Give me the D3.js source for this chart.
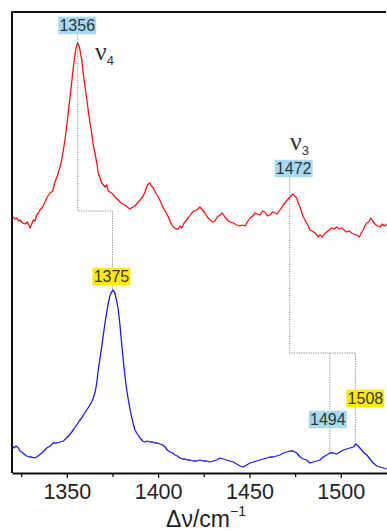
<!DOCTYPE html>
<html><head><meta charset="utf-8">
<script src="https://cdn.jsdelivr.net/npm/d3@7"></script>
<style>html,body{margin:0;padding:0;background:#fff;}svg{display:block;}</style>
</head><body>
<svg id="c" width="387" height="531"></svg>
<script>
// ---- data ----
const redWn = [1320.0,1321.6,1322.6,1323.5,1324.4,1325.8,1327.1,1328.4,1329.9,1330.8,1331.7,1332.6,1333.5,1334.4,1335.3,1336.8,1338.1,1339.3,1340.8,1342.3,1343.5,1344.8,1346.3,1347.2,1348.1,1349.0,1349.9,1350.8,1351.8,1352.7,1353.6,1354.5,1355.4,1356.0,1356.7,1357.2,1358.2,1359.0,1360.1,1361.2,1362.3,1363.6,1364.5,1365.4,1366.4,1367.2,1368.2,1369.1,1370.0,1370.9,1371.8,1372.7,1373.6,1375.1,1376.4,1377.6,1379.1,1380.6,1381.9,1383.1,1384.6,1386.1,1387.3,1388.6,1390.1,1391.5,1392.8,1393.7,1394.6,1395.5,1396.4,1397.4,1398.7,1400.1,1401.4,1402.8,1404.1,1405.6,1406.9,1408.3,1409.8,1411.0,1412.0,1412.9,1414.2,1415.6,1416.9,1418.4,1419.6,1421.1,1422.9,1424.4,1425.7,1426.9,1428.4,1429.9,1431.1,1432.4,1433.9,1435.1,1436.6,1437.9,1439.3,1441.2,1443.0,1444.8,1446.3,1447.6,1448.8,1450.3,1451.8,1453.0,1454.3,1455.8,1457.2,1458.5,1459.8,1461.2,1462.7,1464.0,1465.2,1466.7,1468.2,1469.5,1470.7,1472.2,1473.7,1474.8,1475.9,1476.7,1477.7,1478.6,1479.5,1480.4,1481.3,1482.2,1483.1,1484.4,1485.9,1486.8,1487.7,1488.6,1489.9,1491.0,1492.3,1493.7,1495.0,1496.3,1497.8,1499.2,1500.5,1501.8,1503.2,1504.7,1506.0,1507.2,1508.7,1510.1,1511.2,1512.3,1513.2,1514.2,1515.3,1516.4,1517.5,1518.7,1520.0,1521.5,1522.7,1523.8,1525.1];
const redI = [257,254,255,252,253,250,249,251,245,249,253,252,258,260,263,266,271,276,280,282,291,297,306,313,323,333,346,361,376,391,406,419,428,430,427,423,413,400,385,370,355,340,328,320,310,300,295,290,288,286,288,282,281,279,276,274,271,269,268,266,264,266,267,270,273,276,281,286,289,290,287,285,280,276,271,265,261,256,250,246,244,244,247,245,250,253,256,260,262,263,266,263,260,256,253,251,252,256,258,260,256,253,251,250,248,247,248,247,251,255,257,260,259,258,262,261,257,258,261,260,259,263,267,270,273,276,279,277,275,270,266,261,256,253,250,247,243,242,240,238,236,238,236,239,241,243,245,244,246,244,245,243,241,242,240,239,238,236,240,243,247,250,251,255,252,249,247,246,249,247,249];
const blueWn = [1320.0,1321.1,1322.2,1323.5,1324.4,1325.3,1326.6,1328.0,1329.5,1330.8,1332.2,1333.5,1334.9,1336.3,1337.5,1339.0,1340.8,1342.6,1344.5,1346.3,1348.1,1349.9,1351.4,1352.7,1353.9,1355.4,1356.8,1358.2,1359.4,1360.9,1362.3,1363.6,1364.5,1365.4,1366.4,1367.2,1368.2,1369.1,1370.0,1370.9,1371.8,1372.7,1373.6,1374.5,1375.4,1376.3,1377.2,1378.2,1379.1,1380.0,1380.9,1381.9,1382.8,1383.7,1384.6,1385.5,1386.4,1387.3,1388.6,1390.1,1391.5,1392.8,1394.1,1395.5,1397.0,1398.3,1399.5,1401.0,1402.5,1403.8,1405.0,1406.5,1408.0,1409.2,1410.5,1412.0,1413.4,1414.7,1416.0,1417.4,1419.3,1421.1,1422.9,1424.7,1426.6,1428.4,1430.2,1432.1,1433.9,1435.7,1437.5,1439.3,1441.2,1443.0,1444.8,1446.6,1448.5,1450.3,1452.1,1454.0,1455.8,1457.6,1459.4,1461.2,1463.0,1464.9,1466.7,1468.5,1470.4,1472.2,1474.0,1475.9,1477.7,1479.5,1481.3,1483.1,1484.9,1486.8,1488.6,1490.4,1492.3,1494.1,1495.9,1497.8,1499.6,1501.4,1503.2,1505.0,1506.9,1508.2,1509.6,1510.9,1512.3,1514.2,1516.0,1517.8,1519.7,1521.5,1523.3,1525.1];
const blueI = [28,25,27,25,22,21,19,17,16,16,15,16,18,20,22,25,27,30,30,31,32,35,38,41,44,48,52,55,59,63,67,71,75,80,90,103,115,126,138,150,160,170,177,181,183,180,173,163,148,130,113,96,83,73,64,56,49,43,39,35,32,31,32,31,31,30,30,29,28,26,23,21,20,18,17,15,14,14,13,13,12,12,13,12,12,11,12,13,15,14,13,12,11,9,7,6,8,10,11,12,13,14,15,16,16,17,18,20,21,22,22,20,16,14,13,10,11,12,13,16,18,20,20,19,21,23,24,25,26,29,27,24,21,18,14,10,7,6,5,4];
const majorTicks = [1350, 1400, 1450, 1500];
const minorTicks = [1325, 1375, 1425, 1475];
const labelValues = [1356, 1472, 1375, 1494, 1508];
const labelKinds = ["blue", "blue", "yellow", "blue", "yellow"];
const bandNames = [{v: "ν", sub: "4"}, {v: "ν", sub: "3"}];

// ---- layout ----
const svg = d3.select("#c");
const L = 12, T = 12, R = 387, B = 473;
const x = d3.scaleLinear().domain([1320, 1525.3]).range([L, R]);
const y = d3.scaleLinear().domain([0, 461]).range([B, T]);
const FONT = "'Liberation Sans', Arial, sans-serif";

svg.append("defs").append("clipPath").attr("id", "clip")
  .append("rect").attr("x", L).attr("y", T).attr("width", R - L).attr("height", B - T);

const line = d3.line().x(d => x(d[0])).y(d => y(d[1]));
const redData = redWn.map((w, i) => [w, redI[i]]);
const blueData = blueWn.map((w, i) => [w, blueI[i]]);

// dotted connectors
const dot = svg.append("g").attr("stroke", "#8a8a8a").attr("stroke-width", 1)
  .attr("stroke-dasharray", "1.2,1.2").attr("fill", "none");
const xs = {}; labelValues.forEach(v => xs[v] = x(v));
const boxW = 38, boxH = 17.5;
const boxPos = {
  1356: {cx: xs[1356] - 0.5, cy: 25.5},
  1472: {cx: xs[1472] + 4, cy: 168.5},
  1375: {cx: xs[1375] - 1, cy: 276.5},
  1494: {cx: xs[1494] - 2, cy: 419.5},
  1508: {cx: xs[1508] + 10, cy: 398.5}
};
const path = pts => dot.append("path").attr("d", d3.line()(pts));
const level1 = 211, level2 = 353;
path([[xs[1356], boxPos[1356].cy + boxH/2], [xs[1356], level1], [xs[1375], level1], [xs[1375], boxPos[1375].cy - boxH/2]]);
path([[xs[1375], boxPos[1375].cy + boxH/2], [xs[1375], y(183)]]);
path([[xs[1472], boxPos[1472].cy + boxH/2], [xs[1472], level2], [xs[1508], level2], [xs[1508], boxPos[1508].cy - boxH/2]]);
path([[xs[1494], level2], [xs[1494], boxPos[1494].cy - boxH/2]]);
path([[xs[1494], boxPos[1494].cy + boxH/2], [xs[1494], y(20)]]);
path([[xs[1508], boxPos[1508].cy + boxH/2], [xs[1508], y(29)]]);

// curves
const g = svg.append("g").attr("clip-path", "url(#clip)");
g.append("path").datum(redData).attr("d", line).attr("fill", "none")
  .attr("stroke", "#ff1010").attr("stroke-width", 1.3).attr("stroke-linejoin", "round");
g.append("path").datum(blueData).attr("d", line).attr("fill", "none")
  .attr("stroke", "#1a1aff").attr("stroke-width", 1.3).attr("stroke-linejoin", "round");

// label boxes
const colors = {blue: "#a6d9f2", yellow: "#ffea00"};
labelValues.forEach((v, i) => {
  const p = boxPos[v];
  svg.append("rect").attr("x", p.cx - boxW/2).attr("y", p.cy - boxH/2)
    .attr("width", boxW).attr("height", boxH).attr("fill", colors[labelKinds[i]]);
  svg.append("text").attr("x", p.cx).attr("y", p.cy + 5.8)
    .attr("text-anchor", "middle").attr("font-family", FONT).attr("font-size", 16)
    .attr("fill", "#333").text(v);
});

// band names
const bandPos = [[95, 60], [290, 150]];
bandNames.forEach((b, i) => {
  const t = svg.append("text").attr("x", bandPos[i][0]).attr("y", bandPos[i][1])
    .attr("font-family", "'Liberation Serif', 'Times New Roman', serif")
    .attr("font-size", 26).attr("fill", "#333");
  t.append("tspan").text(b.v);
  t.append("tspan").attr("font-family", FONT).attr("font-size", 13).attr("dy", 5).text(b.sub);
});

// frame
svg.append("line").attr("x1", L).attr("x2", R - 1).attr("y1", T).attr("y2", T)
  .attr("stroke", "#111").attr("stroke-width", 2);
svg.append("line").attr("x1", L).attr("x2", L).attr("y1", T - 1).attr("y2", B)
  .attr("stroke", "#111").attr("stroke-width", 2);

// axis
const ax = svg.append("g").attr("transform", `translate(0,${B})`)
  .call(d3.axisBottom(x).tickValues(majorTicks).tickSize(5).tickSizeOuter(0).tickPadding(6).tickFormat(d3.format("d")));
ax.select(".domain").attr("stroke", "#111").attr("stroke-width", 2);
ax.selectAll(".tick line").attr("stroke", "#111").attr("stroke-width", 1.3);
ax.selectAll(".tick text").attr("font-family", FONT).attr("font-size", 21.5).attr("fill", "#222");
const axm = svg.append("g").attr("transform", `translate(0,${B})`)
  .call(d3.axisBottom(x).tickValues(minorTicks).tickSize(4).tickFormat(""));
axm.select(".domain").remove();
axm.selectAll(".tick line").attr("stroke", "#111").attr("stroke-width", 1.3);

// axis title
const tt = svg.append("text").attr("x", 206).attr("y", 527).attr("text-anchor", "middle")
  .attr("font-family", FONT).attr("font-size", 23).attr("fill", "#222");
tt.append("tspan").text("Δν/cm");
tt.append("tspan").attr("font-size", 14).attr("dy", -11).text("−1");
</script>
</body></html>
